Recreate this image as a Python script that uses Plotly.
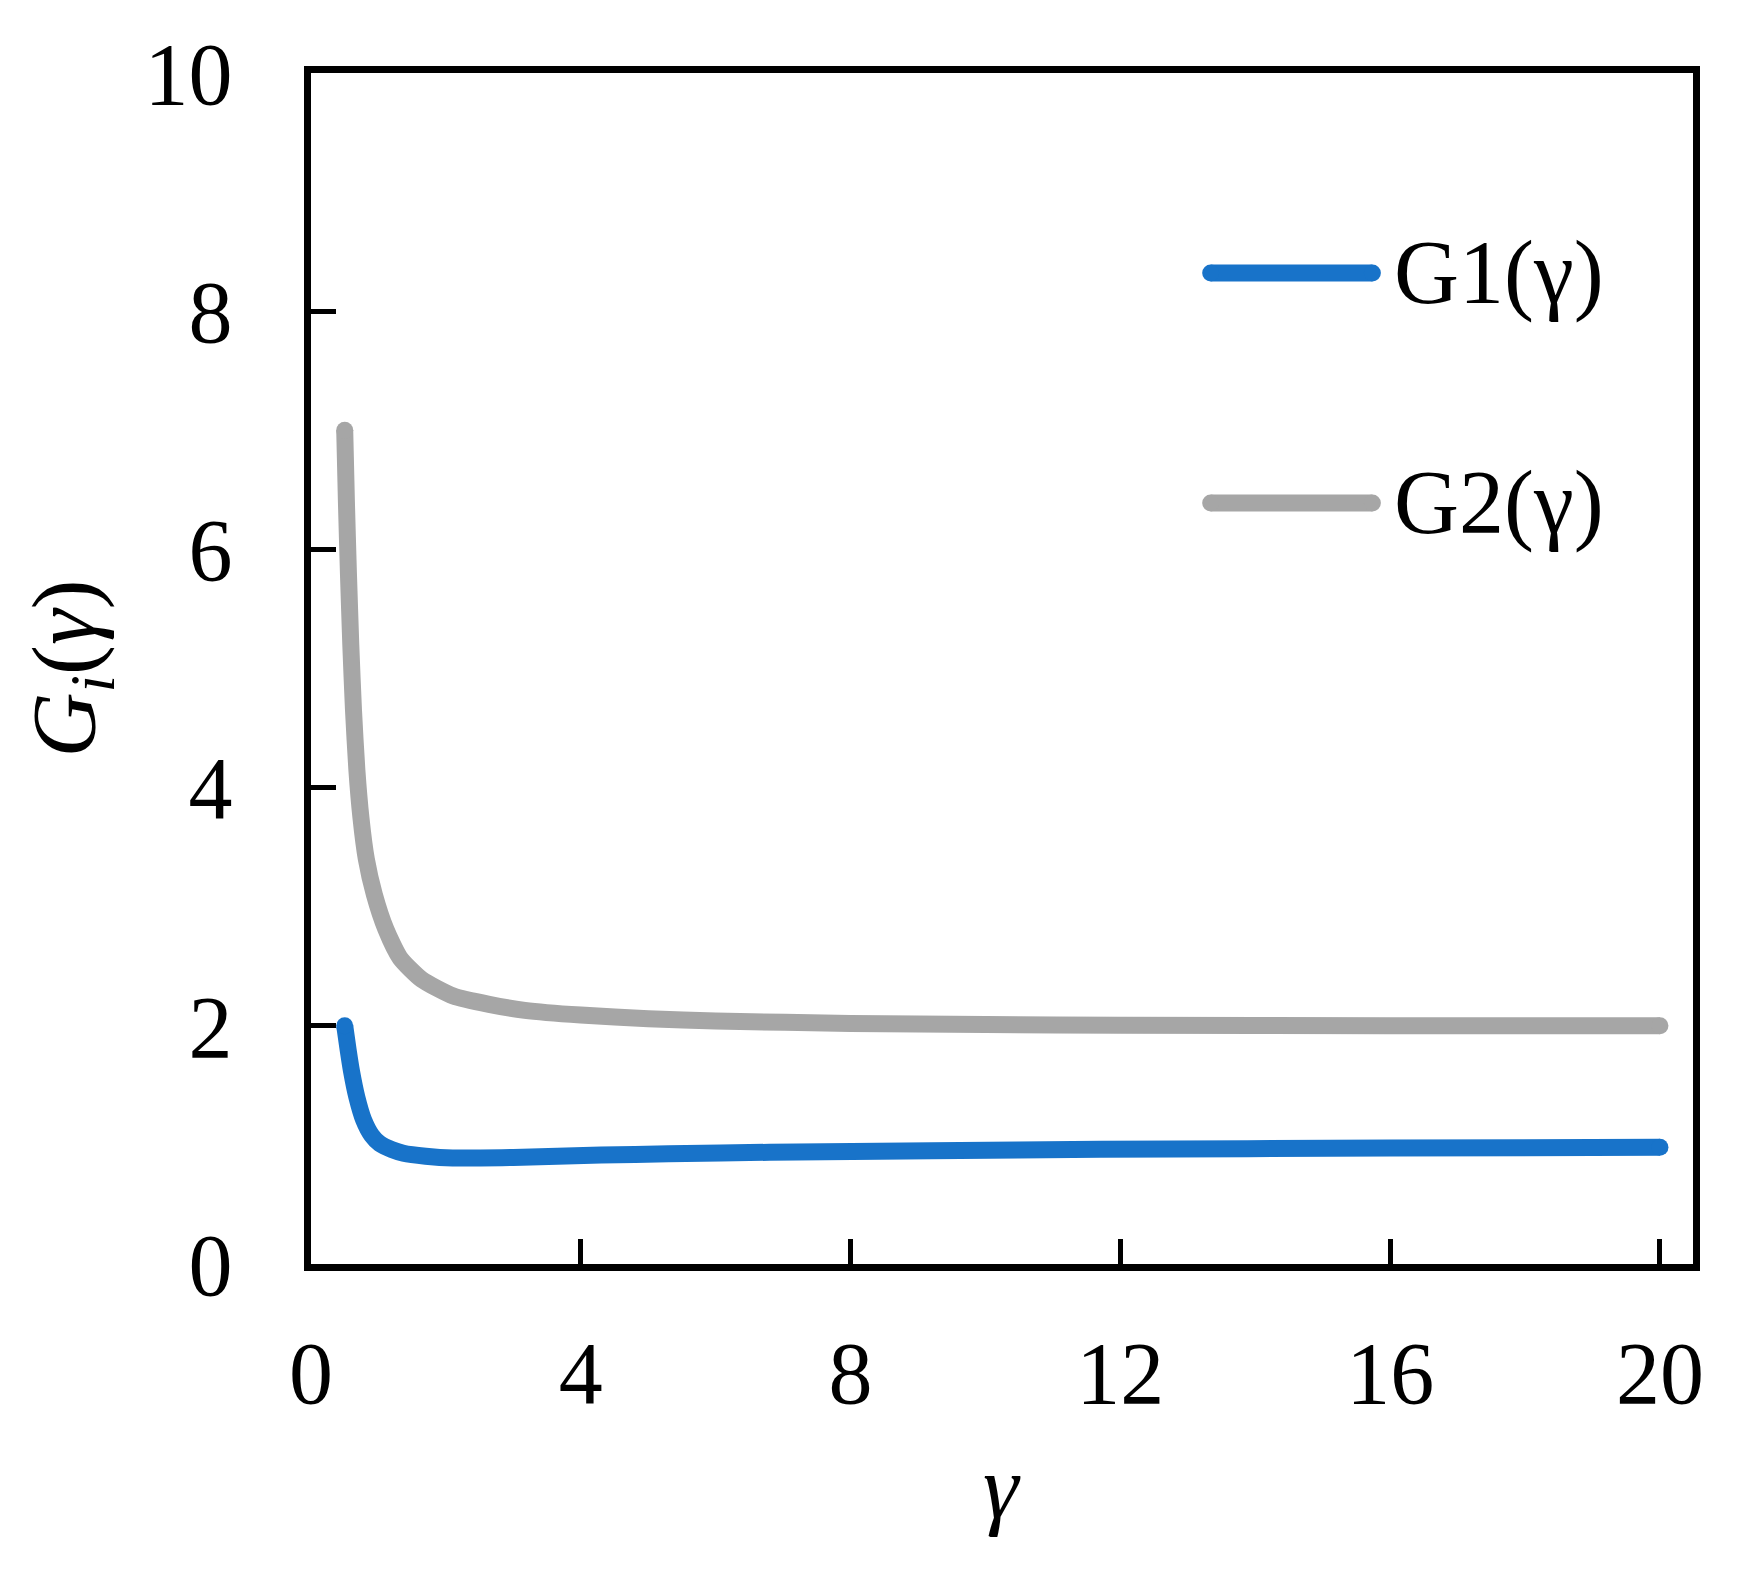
import plotly.graph_objects as go

# data
gamma_g1 = [0.5, 0.55, 0.6, 0.68, 0.78, 0.9, 1.02, 1.2, 1.37, 1.7, 2.1, 3.0, 4.3, 5.3, 6.8, 9.2, 11.7, 16.0, 20.0]
g1_vals = [2.0, 1.80, 1.62, 1.40, 1.21, 1.08, 1.01, 0.96, 0.93, 0.905, 0.89, 0.895, 0.915, 0.925, 0.938, 0.951, 0.963, 0.973, 0.98]

gamma_g2 = [0.5, 0.525, 0.555, 0.59, 0.63, 0.68, 0.74, 0.82, 0.94, 1.11, 1.32, 1.64, 2.11, 2.64, 3.17, 4.0, 5.0, 6.0, 8.0, 10.0, 12.0, 16.0, 20.0]
g2_vals = [7.0, 6.4, 5.8, 5.2, 4.65, 4.15, 3.75, 3.4, 3.1, 2.81, 2.57, 2.39, 2.25, 2.18, 2.13, 2.09, 2.06, 2.04, 2.02, 2.01, 2.005, 2.0, 2.0]

x_ticks = [0, 4, 8, 12, 16, 20]
y_ticks = [0, 2, 4, 6, 8, 10]
series_names = ["G1(γ)", "G2(γ)"]
colors = ["#1873C9", "#A6A6A6"]

FONT = "Liberation Serif, Times New Roman, serif"
LW = 17

fig = go.Figure()
for xs, ys, c, n in [(gamma_g2, g2_vals, colors[1], series_names[1]),
                     (gamma_g1, g1_vals, colors[0], series_names[0])]:
    fig.add_trace(go.Scatter(x=xs, y=ys, mode="lines", line=dict(color=c, width=LW, shape="spline", smoothing=0.6),
                             name=n, showlegend=False, hoverinfo="skip"))
    fig.add_trace(go.Scatter(x=[xs[0], xs[-1]], y=[ys[0], ys[-1]], mode="markers",
                             marker=dict(color=c, size=LW, line=dict(width=0)), showlegend=False, hoverinfo="skip"))

# manual legend on an overlay axis
leg_x = [0.651, 0.768]
leg_y = [0.832, 0.639]
for i in range(2):
    fig.add_trace(go.Scatter(x=leg_x, y=[leg_y[i], leg_y[i]], xaxis="x2", yaxis="y2", mode="lines+markers",
                             line=dict(color=colors[i], width=LW), marker=dict(color=colors[i], size=LW),
                             showlegend=False, hoverinfo="skip"))
    fig.add_annotation(x=0.782, y=leg_y[i], xref="paper", yref="paper", text=series_names[i],
                       showarrow=False, xanchor="left", yanchor="middle",
                       font=dict(family=FONT, size=90, color="black"))

fig.add_annotation(x=0.5, y=-0.188, xref="paper", yref="paper", text="<i>γ</i>", showarrow=False,
                   xanchor="center", yanchor="middle", font=dict(family=FONT, size=90, color="black"))
fig.add_annotation(x=-0.173, y=0.5, xref="paper", yref="paper", text="<i>G</i><sub><i>i</i></sub>(<i>γ</i>)",
                   showarrow=False, textangle=-90, xanchor="center", yanchor="middle",
                   font=dict(family=FONT, size=90, color="black"))

axis_common = dict(showgrid=False, zeroline=False, showline=True, linecolor="black", linewidth=7, mirror=True,
                   ticks="inside", ticklen=25, tickwidth=5, tickcolor="black",
                   tickfont=dict(family=FONT, size=88, color="black"))
fig.update_layout(
    width=1738, height=1568,
    margin=dict(l=303, r=53, t=65, b=312),
    paper_bgcolor="white", plot_bgcolor="white",
    xaxis=dict(range=[0, 20.49], tickvals=x_ticks, ticktext=[str(v) for v in x_ticks], ticklabelstandoff=26, **axis_common),
    yaxis=dict(range=[0, 10], tickvals=y_ticks, ticktext=[str(v) for v in y_ticks], ticklabelstandoff=54, **axis_common),
    xaxis2=dict(overlaying="x", range=[0, 1], visible=False, domain=[0, 1]),
    yaxis2=dict(overlaying="y", range=[0, 1], visible=False),
)
fig.write_html("out.html")
